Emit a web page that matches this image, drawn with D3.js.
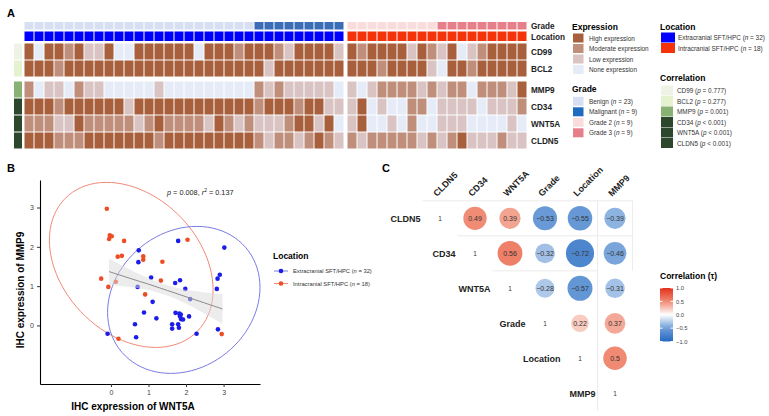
<!DOCTYPE html>
<html>
<head>
<meta charset="utf-8">
<script src="https://cdn.jsdelivr.net/npm/d3@7"></script>
<style>
  body { margin: 0; background: #fff; }
  svg { font-family: "Liberation Sans", Arial, sans-serif; }
  .bold { font-weight: bold; }
</style>
</head>
<body>
<div id="chart"></div>
<script>
// ---------- data: panel A (0 none, 1 low, 2 moderate, 3 high) ----------
var markers = ["CD99", "BCL2", "MMP9", "CD34", "WNT5A", "CLDN5"];
var extraCD99  = [3,0,3,3,2,3,1,1,3,0,0,3,3,3,3,3,3,0,3,3,3,2,3,3,3,2,1,3,3,3,3,1];
var extraBCL2  = [3,3,3,2,3,3,3,3,3,3,3,3,3,3,3,3,3,3,3,3,3,3,3,3,1,3,3,3,3,3,3,3];
var extraMMP9  = [2,0,1,1,0,2,1,1,0,0,0,0,0,1,0,0,0,0,0,0,0,0,0,2,1,2,1,1,1,1,1,0];
var extraCD34  = [3,3,3,2,3,3,3,3,3,3,1,3,3,3,3,3,3,3,3,3,3,3,3,2,3,3,3,2,3,3,1,1];
var extraWNT5A = [2,2,2,1,1,3,2,2,2,2,2,1,2,3,2,2,2,2,1,3,2,1,2,1,1,1,2,3,3,1,3,0];
var extraCLDN5 = [3,3,3,2,2,2,3,3,3,3,3,3,3,2,3,3,3,3,3,3,3,3,3,2,1,2,2,1,2,3,2,1];
var intraCD99  = [3,2,3,3,3,3,1,3,2,1,3,0,1,2,3,3,3,3];
var intraBCL2  = [3,3,3,2,3,3,3,3,1,0,3,3,2,3,3,3,3,3];
var intraMMP9  = [1,0,1,2,2,2,2,1,2,1,2,2,0,2,2,2,1,3];
var intraCD34  = [1,3,0,1,0,0,2,2,0,1,1,1,1,0,1,1,1,2];
var intraWNT5A = [1,3,0,0,1,0,2,0,0,1,1,1,0,0,0,0,1,0];
var intraCLDN5 = [2,1,2,2,2,2,2,1,2,1,2,3,1,1,1,2,1,1];
// grade per case: 0 benign, 1 malignant, 2 grade 2, 3 grade 3
var extraGrade = [0,0,0,0,0,0,0,0,0,0,0,0,0,0,0,0,0,0,0,0,0,0,0,1,1,1,1,1,1,1,1,1];
var intraGrade = [2,2,2,2,2,2,2,2,2,3,3,3,3,3,3,3,3,3];
var exprLabels = ["High expression", "Moderate expression", "Low expression", "None expression"];
var gradeLabels = ["Benign", "Malignant", "Grade 2", "Grade 3"];
var gradeCounts = [23, 9, 9, 9];
var locationLabels = ["Extracranial SFT/HPC", "Intracranial SFT/HPC"];
var locationCounts = [32, 18];
var corrPLabels = ["p = 0.777", "p = 0.277", "p = 0.001", "p < 0.001", "p < 0.001", "p < 0.001"];

// ---------- data: panel B ----------
var extraWnt = [-0.09,0.74,0.73,1.79,3.02,2.9,2.84,1.84,1.71,1.07,0.71,1.98,2.11,1.11,0.88,1.21,1.72,1.82,1.84,1.87,1.92,2.08,1.63,1.63,1.79,1.81,0.64,0.67,2.85,2.28,2.82,1.86];
var extraMmp = [-0.21,1.91,1.61,2.15,1.98,1.29,1.19,1.15,1.08,1.22,0.98,0.93,0.67,0.6,0.33,0.18,0.32,0.3,0.23,0.16,0.15,0.23,0.03,-0.08,0.03,-0.06,0.03,-0.3,-0.1,-0.21,0.93,0.28];
var intraWnt = [-0.11,-0.03,0.02,-0.05,0.35,0.18,0.29,0.86,0.86,1.37,-0.26,-0.07,0.13,1.33,0.91,2.04,0.2,2.95];
var intraMmp = [2.97,2.29,2.27,2.2,2.15,1.75,1.77,1.76,1.67,1.62,1.19,0.98,1.11,1.14,0.79,2.18,-0.34,-0.22];
var fitX     = [-0.05, 0.5, 1, 1.5, 2, 2.5, 2.97];
var fitY     = [1.37, 1.2, 1.05, 0.89, 0.73, 0.57, 0.42];
var fitLow   = [1.03, 0.98, 0.9, 0.76, 0.55, 0.3, 0.04];
var fitHigh  = [1.7, 1.42, 1.2, 1.02, 0.91, 0.84, 0.8];
// ellipses: centre x, centre y, sd x, sd y, correlation (data units)
var extraEllipse = [1.94, 0.65, 2.03, 1.87, 0.17];
var intraEllipse = [0.54, 1.54, 2.18, 2.1, -0.3];

// ---------- data: panel C ----------
var corrVars = ["CLDN5", "CD34", "WNT5A", "Grade", "Location", "MMP9"];
var corrCLDN5    = [1, 0.49, 0.39, -0.53, -0.55, -0.39];
var corrCD34     = [1, 0.56, -0.32, -0.72, -0.46];
var corrWNT5A    = [1, -0.28, -0.57, -0.31];
var corrGrade    = [1, 0.22, 0.37];
var corrLocation = [1, 0.5];
var corrMMP9     = [1];
var corrTicks = [1.0, 0.5, 0.0, -0.5, -1.0];

var W = 769, H = 416;
var svg = d3.select("#chart").append("svg")
  .attr("width", W).attr("height", H);

var exprColors = ["#e6ebf8", "#dac3c3", "#c08f7c", "#a85f3c"];
var gradeColors = ["#d6e0f2", "#3a6db5", "#f9dcdc", "#e5808a"];
var locColors = ["#0000ff", "#f4330a"];
var sideColors = ["#eef3e5", "#e5f2cf", "#88b174", "#2c472c", "#2c472c", "#2c472c"];

// panel letters
[["A", 7, 17], ["B", 7, 172], ["C", 382, 172]].forEach(function(p) {
  svg.append("text").attr("class", "bold").attr("x", p[1]).attr("y", p[2])
    .attr("font-size", 11).text(p[0]);
});

// ================= PANEL A =================
var extraData = [extraCD99, extraBCL2, extraMMP9, extraCD34, extraWNT5A, extraCLDN5];
var intraData = [intraCD99, intraBCL2, intraMMP9, intraCD34, intraWNT5A, intraCLDN5];

var xLeft = d3.scaleBand().domain(d3.range(extraCD99.length)).range([24, 344]);
var xRight = d3.scaleBand().domain(d3.range(intraCD99.length)).range([347, 527]);
var yTop = d3.scaleBand().domain(markers.slice(0, 2)).range([43, 77]);
var yBot = d3.scaleBand().domain(markers.slice(2)).range([81, 149]);
function rowY(m) { return markers.indexOf(m) < 2 ? yTop(m) : yBot(m); }
var rowH = yTop.bandwidth();

var hm = svg.append("g");

function drawGroup(xs, data, grades, loc) {
  // grade row
  hm.append("g").selectAll("rect").data(grades).enter().append("rect")
    .attr("x", function(d, i) { return xs(i) + 0.5; })
    .attr("y", 22).attr("width", xs.bandwidth() - 1).attr("height", 7.5)
    .attr("fill", function(d) { return gradeColors[d]; });
  // location row
  hm.append("g").selectAll("rect").data(grades).enter().append("rect")
    .attr("x", function(d, i) { return xs(i) + 0.5; })
    .attr("y", 31.5).attr("width", xs.bandwidth() - 1).attr("height", 9.5)
    .attr("fill", locColors[loc]);
  markers.forEach(function(m, r) {
    hm.append("g").selectAll("rect").data(data[r]).enter().append("rect")
      .attr("x", function(d, i) { return xs(i) + 0.5; })
      .attr("y", rowY(m) + 0.5)
      .attr("width", xs.bandwidth() - 1).attr("height", rowH - 1)
      .attr("fill", function(d) { return exprColors[d]; });
  });
}
drawGroup(xLeft, extraData, extraGrade, 0);
drawGroup(xRight, intraData, intraGrade, 1);

// side correlation bar
hm.append("g").selectAll("rect").data(markers).enter().append("rect")
  .attr("x", 14).attr("width", 8)
  .attr("y", function(m) { return rowY(m) + 0.5; })
  .attr("height", rowH - 1)
  .attr("fill", function(m, i) { return sideColors[i]; });

// row labels
var rowLab = svg.append("g").attr("class", "bold").attr("font-size", 8.2).attr("fill", "#222");
rowLab.append("text").attr("x", 531).attr("y", 29).text("Grade");
rowLab.append("text").attr("x", 531).attr("y", 39.5).text("Location");
markers.forEach(function(m) {
  rowLab.append("text").attr("x", 531).attr("y", rowY(m) + rowH / 2 + 3).text(m);
});

function itemText(g, x, y, parts) {
  var t = g.append("text").attr("x", x).attr("y", y).attr("font-size", 6.4).attr("fill", "#333");
  parts.forEach(function(p) {
    t.append("tspan").attr("font-style", p[1] ? "italic" : null).text(p[0]);
  });
}

// Expression legend
var lg = svg.append("g");
lg.append("text").attr("class", "bold").attr("x", 572).attr("y", 30).attr("font-size", 8.5).text("Expression");
exprLabels.forEach(function(l, i) {
  var y = 33.5 + i * 10.5;
  lg.append("rect").attr("x", 573).attr("y", y).attr("width", 10.5).attr("height", 9)
    .attr("fill", exprColors[3 - i]);
  itemText(lg, 589, y + 7, [[l]]);
});
// Grade legend
lg.append("text").attr("class", "bold").attr("x", 572).attr("y", 92).attr("font-size", 8.5).text("Grade");
gradeLabels.forEach(function(l, i) {
  var y = 96.8 + i * 10.5;
  lg.append("rect").attr("x", 573).attr("y", y).attr("width", 10.5).attr("height", 9)
    .attr("fill", i === 1 ? "#1f6bbf" : gradeColors[i]);
  itemText(lg, 589, y + 7, [[l + " ("], ["n", true], [" = " + gradeCounts[i] + ")"]]);
});
// Location legend
lg.append("text").attr("class", "bold").attr("x", 660).attr("y", 30).attr("font-size", 8.5).text("Location");
locationLabels.forEach(function(l, i) {
  var y = 32.5 + i * 10.5;
  lg.append("rect").attr("x", 661).attr("y", y).attr("width", 14).attr("height", 10)
    .attr("fill", locColors[i]);
  itemText(lg, 678, y + 7.5, [[l + " ("], ["n", true], [" = " + locationCounts[i] + ")"]]);
});
// Correlation legend
lg.append("text").attr("class", "bold").attr("x", 660).attr("y", 81).attr("font-size", 8.5).text("Correlation");
markers.forEach(function(m, i) {
  var y = 85.5 + i * 10.5;
  lg.append("rect").attr("x", 661).attr("y", y).attr("width", 12).attr("height", 10)
    .attr("fill", sideColors[i]);
  var pp = corrPLabels[i];
  itemText(lg, 677, y + 7.5, [[m + " ("], ["p", true], [pp.slice(1) + ")"]]);
});

// ================= PANEL B =================
var xB = d3.scaleLinear().domain([-1.89, 3.97]).range([40, 260]);
var yB = d3.scaleLinear().domain([-1.49, 3.7]).range([384, 180]);

var gB = svg.append("g");

function ellipsePath(e) {
  // covariance ellipse from sd and correlation, sampled around
  var cx = e[0], cy = e[1], sx = e[2], sy = e[3], rho = e[4];
  var pts = d3.range(0, 361, 4).map(function(a) {
    var t = a * Math.PI / 180;
    var u = Math.cos(t), v = Math.sin(t);
    var px = cx + sx * u;
    var py = cy + sy * (rho * u + Math.sqrt(1 - rho * rho) * v);
    return [xB(px), yB(py)];
  });
  return d3.line()(pts) + "Z";
}
gB.append("path").attr("d", ellipsePath(intraEllipse))
  .attr("fill", "none").attr("stroke", "#f08a78").attr("stroke-width", 1);
gB.append("path").attr("d", ellipsePath(extraEllipse))
  .attr("fill", "none").attr("stroke", "#7b7be6").attr("stroke-width", 1);

gB.append("g").selectAll("circle").data(extraWnt).enter().append("circle")
  .attr("cx", function(d) { return xB(d); })
  .attr("cy", function(d, i) { return yB(extraMmp[i]); })
  .attr("r", 2.3).attr("fill", "#1c1ce8");
gB.append("g").selectAll("circle").data(intraWnt).enter().append("circle")
  .attr("cx", function(d) { return xB(d); })
  .attr("cy", function(d, i) { return yB(intraMmp[i]); })
  .attr("r", 2.3).attr("fill", "#ec4d24");

var band = d3.area()
  .x(function(d, i) { return xB(fitX[i]); })
  .y0(function(d, i) { return yB(fitLow[i]); })
  .y1(function(d, i) { return yB(fitHigh[i]); })
  .curve(d3.curveMonotoneX);
gB.append("path").datum(fitX).attr("d", band).attr("fill", "#d9d9d9").attr("opacity", 0.5);
gB.append("path").datum(fitX)
  .attr("d", d3.line().x(function(d, i) { return xB(fitX[i]); }).y(function(d, i) { return yB(fitY[i]); }))
  .attr("fill", "none").attr("stroke", "#8c8c8c").attr("stroke-width", 1);

var axB = svg.append("g");
axB.append("g").attr("transform", "translate(0,384)")
  .call(d3.axisBottom(xB).tickValues([0, 1, 2, 3]).tickFormat(d3.format("d")).tickSize(3).tickSizeOuter(0));
axB.append("g").attr("transform", "translate(40,0)")
  .call(d3.axisLeft(yB).tickValues([0, 1, 2, 3]).tickFormat(d3.format("d")).tickSize(3).tickSizeOuter(0));
axB.selectAll(".domain").attr("stroke", "#000").attr("stroke-width", 1.1);
axB.selectAll(".tick line").attr("stroke", "#333");
axB.selectAll(".tick text").attr("fill", "#444").attr("font-size", 7)
  .attr("font-family", "Liberation Sans, Arial");

svg.append("text").attr("class", "bold").attr("x", 133).attr("y", 410)
  .attr("text-anchor", "middle").attr("font-size", 10).text("IHC expression of WNT5A");
svg.append("text").attr("class", "bold").attr("transform", "translate(24,290) rotate(-90)")
  .attr("text-anchor", "middle").attr("font-size", 10).text("IHC expression of MMP9");

var ann = svg.append("text").attr("x", 167).attr("y", 195).attr("font-size", 7.3).attr("fill", "#222");
ann.append("tspan").attr("font-style", "italic").text("p");
ann.append("tspan").text(" = 0.008, ");
ann.append("tspan").attr("font-style", "italic").text("r");
ann.append("tspan").attr("font-size", 5).attr("dy", -3).text("2");
ann.append("tspan").attr("dy", 3).text(" = 0.137");

// legend B
var lgB = svg.append("g");
lgB.append("text").attr("class", "bold").attr("x", 273).attr("y", 259).attr("font-size", 8.5).text("Location");
locationLabels.forEach(function(l, i) {
  var y = 271 + i * 12.5;
  lgB.append("line").attr("x1", 274).attr("x2", 288).attr("y1", y).attr("y2", y)
    .attr("stroke", i === 0 ? "#7b7be6" : "#f08a78");
  lgB.append("circle").attr("cx", 281).attr("cy", y).attr("r", 2.3)
    .attr("fill", i === 0 ? "#1c1ce8" : "#ec4d24");
  var t = lgB.append("text").attr("x", 293).attr("y", y + 2.2).attr("font-size", 5.8).attr("fill", "#333");
  t.append("tspan").text(l + " (");
  t.append("tspan").attr("font-style", "italic").text("n");
  t.append("tspan").text(" = " + locationCounts[i] + ")");
});

// ================= PANEL C =================
var corrRows = [corrCLDN5, corrCD34, corrWNT5A, corrGrade, corrLocation, corrMMP9];
var xC = d3.scaleBand().domain(corrVars).range([422.5, 632.5]);
var yC = d3.scaleBand().domain(corrVars).range([200.8, 410.8]);
var rC = d3.scaleLinear().domain([0, 1]).range([6.5, 17]);
var colC = d3.scaleLinear().domain([-1, -0.5, 0, 0.5, 1])
  .range(["#2568c0", "#6d9dd8", "#ffffff", "#f08a72", "#e3301c"]);
var bw = xC.bandwidth();

var gC = svg.append("g");
// light grid
var gridCol = "#ececec";
gC.append("line").attr("x1", xC("CLDN5")).attr("x2", xC("MMP9") + bw)
  .attr("y1", yC("CLDN5")).attr("y2", yC("CLDN5")).attr("stroke", gridCol);
gC.append("line").attr("x1", xC("CD34")).attr("x2", xC("MMP9") + bw)
  .attr("y1", yC("CD34")).attr("y2", yC("CD34")).attr("stroke", gridCol);
gC.append("line").attr("x1", xC("WNT5A")).attr("x2", xC("MMP9"))
  .attr("y1", yC("WNT5A")).attr("y2", yC("WNT5A")).attr("stroke", gridCol);
gC.append("line").attr("x1", xC("MMP9")).attr("x2", xC("MMP9"))
  .attr("y1", yC("CLDN5")).attr("y2", yC("MMP9") + bw).attr("stroke", gridCol);
gC.append("line").attr("x1", xC("MMP9") + bw).attr("x2", xC("MMP9") + bw)
  .attr("y1", yC("CLDN5")).attr("y2", yC("WNT5A")).attr("stroke", gridCol);

var cells = [];
corrRows.forEach(function(row, i) {
  row.forEach(function(v, k) {
    cells.push({ r: corrVars[i], c: corrVars[i + k], v: v, diag: k === 0 });
  });
});
gC.selectAll("circle").data(cells.filter(function(d) { return !d.diag; })).enter().append("circle")
  .attr("cx", function(d) { return xC(d.c) + bw / 2; })
  .attr("cy", function(d) { return yC(d.r) + bw / 2; })
  .attr("r", function(d) { return rC(Math.abs(d.v)); })
  .attr("fill", function(d) { return colC(d.v); });
gC.selectAll("text.val").data(cells).enter().append("text").attr("class", "val")
  .attr("x", function(d) { return xC(d.c) + bw / 2; })
  .attr("y", function(d) { return yC(d.r) + bw / 2 + 2.4; })
  .attr("text-anchor", "middle").attr("font-size", function(d) { return d.diag ? 6.5 : 7; })
  .attr("fill", "#333")
  .text(function(d) { return d.diag ? "1" : String(d.v).replace("-", "\u2212"); });

// row labels (left of diagonal)
gC.selectAll("text.rl").data(corrVars).enter().append("text").attr("class", "rl bold")
  .attr("x", function(d) { return xC(d) - 2; })
  .attr("y", function(d) { return yC(d) + bw / 2 + 3.2; })
  .attr("text-anchor", "end").attr("font-size", 9).attr("fill", "#222")
  .text(function(d) { return d; });
// column labels (rotated)
gC.selectAll("text.cl").data(corrVars).enter().append("text").attr("class", "cl bold")
  .attr("transform", function(d) { return "translate(" + (xC(d) + bw / 2 - 3) + ",197) rotate(-45)"; })
  .attr("font-size", 9).attr("fill", "#222")
  .text(function(d) { return d; });

// colour bar legend
var yBar = d3.scaleLinear().domain([1, -1]).range([288, 341.5]);
var defs = svg.append("defs");
var grad = defs.append("linearGradient").attr("id", "cgrad")
  .attr("x1", 0).attr("x2", 0).attr("y1", 0).attr("y2", 1);
d3.range(0, 1.0001, 0.1).forEach(function(t) {
  grad.append("stop").attr("offset", t).attr("stop-color", colC(1 - 2 * t));
});
svg.append("text").attr("class", "bold").attr("x", 660).attr("y", 279).attr("font-size", 8.5)
  .text("Correlation (\u03c4)");
svg.append("rect").attr("x", 660).attr("y", yBar(1)).attr("width", 13)
  .attr("height", yBar(-1) - yBar(1)).attr("fill", "url(#cgrad)");
var axBar = svg.append("g").attr("transform", "translate(673,0)")
  .call(d3.axisRight(yBar).tickValues(corrTicks).tickSize(0).tickPadding(3)
    .tickFormat(function(d) { return d3.format(".1f")(d).replace("-", "\u2212"); }));
axBar.select(".domain").remove();
axBar.selectAll("text").attr("font-size", 5.8).attr("fill", "#444")
  .attr("font-family", "Liberation Sans, Arial");
corrTicks.forEach(function(t) {
  svg.append("line").attr("x1", 660).attr("x2", 662.5).attr("y1", yBar(t)).attr("y2", yBar(t)).attr("stroke", "#fff");
  svg.append("line").attr("x1", 670.5).attr("x2", 673).attr("y1", yBar(t)).attr("y2", yBar(t)).attr("stroke", "#fff");
});
</script>
</body>
</html>
